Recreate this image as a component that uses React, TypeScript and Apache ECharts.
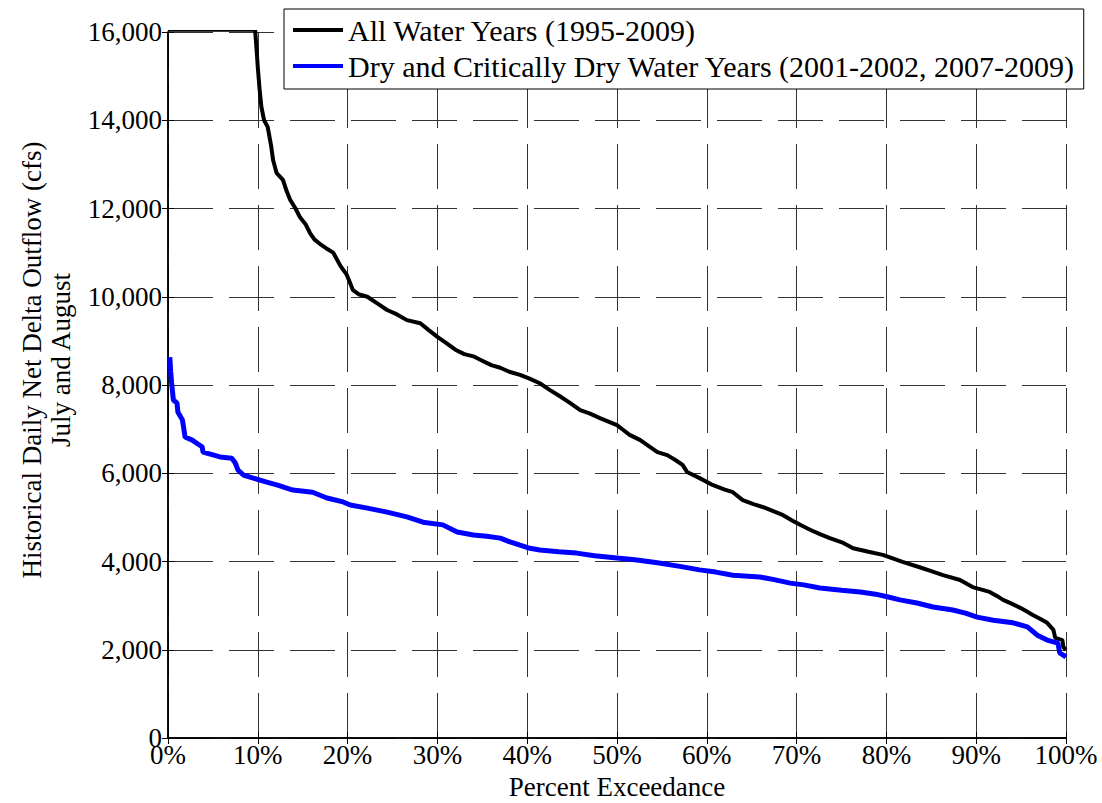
import React, { useEffect, useRef } from "react";
import * as echarts from "echarts";

const xTickLabels = ["0%", "10%", "20%", "30%", "40%", "50%", "60%", "70%", "80%", "90%", "100%"];

const allYearsName = "All Water Years (1995-2009)";
const dryYearsName = "Dry and Critically Dry Water Years (2001-2002, 2007-2009)";
const xAxisTitle = "Percent Exceedance";
const yAxisTitle = "Historical Daily Net Delta Outflow (cfs)\nJuly and August";

// [percent exceedance, flow cfs]; flows above 16,000 are clipped at the top of the plot
const allYears: number[][] = [
  [0, 16050], [9.7, 16050], [9.9, 15500], [10.0, 15200], [10.2, 14700], [10.4, 14300], [10.7, 14000],
  [11.1, 13850], [11.5, 13400], [11.7, 13100], [12.1, 12800], [12.8, 12650], [13.2, 12400], [13.6, 12200],
  [14.2, 12000], [14.7, 11800], [15.3, 11650], [15.8, 11450], [16.3, 11300], [16.9, 11200], [17.6, 11100],
  [18.4, 11000], [18.8, 10850], [19.2, 10700], [19.9, 10500], [20.3, 10300], [20.6, 10150], [21.3, 10050],
  [22.2, 10000], [23.3, 9850], [24.4, 9700], [25.5, 9600], [26.6, 9470], [28.1, 9400], [29.0, 9250],
  [30.0, 9090], [31.0, 8950], [32.0, 8800], [33.0, 8700], [34.0, 8650], [35.0, 8550], [36.0, 8450],
  [37.0, 8390], [38.0, 8300], [39.2, 8230], [40.2, 8150], [41.4, 8040], [42.5, 7890], [43.6, 7750],
  [44.8, 7590], [45.9, 7430], [47.0, 7350], [48.1, 7250], [50.0, 7090], [50.7, 6980], [51.4, 6870],
  [52.6, 6750], [53.5, 6620], [54.5, 6480], [55.6, 6410], [56.5, 6300], [57.3, 6190], [57.8, 6030],
  [59.2, 5890], [60.7, 5730], [62.0, 5630], [62.9, 5570], [64.0, 5390], [65.2, 5300], [66.3, 5230],
  [67.4, 5140], [68.5, 5050], [69.6, 4920], [70.5, 4820], [71.5, 4720], [72.6, 4620], [73.7, 4530],
  [75.2, 4420], [76.3, 4300], [78.0, 4220], [79.6, 4150], [80.7, 4070], [81.8, 3990], [83.7, 3870],
  [85.0, 3780], [86.3, 3690], [88.2, 3580], [89.6, 3420], [91.5, 3310], [92.3, 3220], [93.0, 3130],
  [94.0, 3040], [94.9, 2950], [95.6, 2870], [96.3, 2790], [97.1, 2700], [97.9, 2610], [98.6, 2450],
  [98.8, 2270], [99.6, 2220], [99.7, 2060], [100, 2000],
];

const dryYears: number[][] = [
  [0.2, 8630], [0.3, 8300], [0.4, 8050], [0.6, 7660], [1.0, 7590], [1.1, 7390], [1.6, 7210], [1.7, 7090],
  [1.9, 6820], [2.7, 6750], [3.2, 6680], [3.8, 6600], [3.9, 6480], [5.8, 6370], [7.1, 6340], [7.5, 6230],
  [7.8, 6070], [8.4, 5960], [9.5, 5890], [11.0, 5800], [12.2, 5730], [13.9, 5620], [16.1, 5570],
  [17.7, 5440], [19.5, 5350], [20.3, 5280], [22.2, 5210], [24.4, 5120], [26.6, 5010], [28.4, 4890],
  [30.6, 4830], [32.2, 4670], [34.0, 4600], [35.5, 4570], [37.0, 4530], [38.0, 4450], [39.2, 4370],
  [40.3, 4300], [41.4, 4260], [43.5, 4220], [45.5, 4190], [47.5, 4130], [50.0, 4080], [52.0, 4040],
  [54.5, 3970], [57.0, 3890], [59.2, 3810], [61.0, 3760], [62.9, 3690], [65.9, 3650], [67.5, 3590],
  [69.3, 3510], [70.8, 3470], [72.6, 3400], [75.0, 3350], [77.1, 3310], [78.8, 3260], [80.1, 3200],
  [81.5, 3130], [83.4, 3060], [85.2, 2970], [87.4, 2900], [88.8, 2830], [90.1, 2740], [91.9, 2670],
  [94.1, 2610], [95.7, 2520], [96.8, 2330], [97.9, 2220], [99.1, 2150], [99.3, 1930], [100, 1840],
];

const FONT = "'Liberation Serif', 'Times New Roman', serif";

export default function App() {
  const ref = useRef<HTMLDivElement>(null);
  useEffect(() => {
    if (!ref.current) return;
    const chart = echarts.init(ref.current, undefined, { renderer: "svg" });
    const gridLine = { color: "#333", width: 1 };
    const axisLine = { show: true, lineStyle: { color: "#000", width: 1.5 } };
    const axisTick = { show: true, inside: true, length: 6, lineStyle: { color: "#000" } };
    chart.setOption({
      animation: false,
      backgroundColor: "#fff",
      textStyle: { fontFamily: FONT, color: "#000" },
      grid: { left: 168, top: 32, right: 36, bottom: 65, outerBoundsMode: "none", containLabel: false },
      legend: {
        orient: "vertical",
        left: 284,
        top: 9,
        padding: [6, 8, 8, 9],
        itemGap: 6,
        itemWidth: 50,
        itemHeight: 4,
        icon: "rect",
        backgroundColor: "#fff",
        borderColor: "#000",
        borderWidth: 1,
        textStyle: { fontFamily: FONT, fontSize: 30, color: "#000" },
        data: [allYearsName, dryYearsName],
      },
      graphic: [
        {
          type: "text",
          x: 46,
          y: 360,
          rotation: Math.PI / 2,
          style: {
            text: yAxisTitle,
            fontFamily: FONT,
            fontSize: 27,
            lineHeight: 29,
            fill: "#000",
            align: "center",
            verticalAlign: "middle",
          },
        },
        {
          type: "text",
          x: 617,
          y: 787,
          style: {
            text: xAxisTitle,
            fontFamily: FONT,
            fontSize: 27,
            fill: "#000",
            align: "center",
            verticalAlign: "middle",
          },
        },
      ],
      xAxis: [
        {
          type: "value",
          min: 0,
          max: 100,
          interval: 10,
          axisLine,
          axisTick,
          axisLabel: {
            fontFamily: FONT, fontSize: 27, color: "#000", margin: 3,
            formatter: (v: number) => xTickLabels[Math.round(v / 10)] ?? "",
          },
          splitLine: { show: true, lineStyle: { ...gridLine, type: [45, 16], dashOffset: 10 } },
        },
        {
          type: "value",
          position: "top",
          min: 0,
          max: 100,
          interval: 10,
          axisLine,
          axisTick,
          axisLabel: { show: false },
          splitLine: { show: false },
        },
      ],
      yAxis: [
        {
          type: "value",
          min: 0,
          max: 16000,
          interval: 2000,
          axisLine,
          axisTick,
          axisLabel: {
            fontFamily: FONT, fontSize: 27, color: "#000", margin: 6,
            formatter: (v: number) => v.toLocaleString("en-US"),
          },
          splitLine: { show: true, lineStyle: { ...gridLine, type: [45, 16], dashOffset: 0 } },
        },
        {
          type: "value",
          position: "right",
          min: 0,
          max: 16000,
          interval: 2000,
          axisLine,
          axisTick,
          axisLabel: { show: false },
          splitLine: { show: false },
        },
      ],
      series: [
        {
          name: allYearsName,
          type: "line",
          data: allYears,
          showSymbol: false,
          symbol: "none",
          clip: true,
          color: "#000",
          lineStyle: { color: "#000", width: 4 },
          itemStyle: { color: "#000" },
        },
        {
          name: dryYearsName,
          type: "line",
          data: dryYears,
          showSymbol: false,
          symbol: "none",
          clip: true,
          color: "#0000ff",
          lineStyle: { color: "#0000ff", width: 5 },
          itemStyle: { color: "#0000ff" },
        },
      ],
    });
    return () => chart.dispose();
  }, []);
  return <div ref={ref} style={{ width: 1102, height: 803, position: "absolute", left: 0, top: 0 }} />;
}
